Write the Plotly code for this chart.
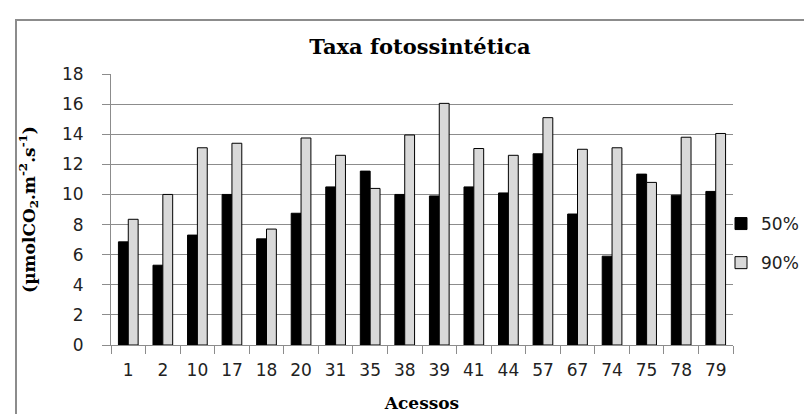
import plotly.graph_objects as go

categories = ["1", "2", "10", "17", "18", "20", "31", "35", "38", "39", "41", "44", "57", "67", "74", "75", "78", "79"]
series_50 = [6.85, 5.3, 7.3, 10.0, 7.05, 8.75, 10.5, 11.55, 10.0, 9.9, 10.5, 10.1, 12.7, 8.7, 5.9, 11.35, 9.95, 10.2]
series_90 = [8.35, 10.0, 13.1, 13.4, 7.7, 13.75, 12.6, 10.4, 13.95, 16.05, 13.05, 12.6, 15.1, 13.0, 13.1, 10.8, 13.8, 14.05]
y_ticks = [0, 2, 4, 6, 8, 10, 12, 14, 16, 18]

W, H = 812, 414
L, R, T, B = 103, 87, 66, 77
pw, ph = W - L - R, H - T - B

fig = go.Figure()
fig.add_trace(go.Bar(x=categories, y=series_50, name="50%", legendgroup="a",
                     marker=dict(color="#000000", line=dict(color="#000000", width=1))))
fig.add_trace(go.Bar(x=categories, y=series_90, name="90%", legendgroup="b",
                     marker=dict(color="#d9d9d9", line=dict(color="#000000", width=1))))

tickfont = dict(family="DejaVu Sans", size=17, color="#222222")
serif_bold = "DejaVu Serif"

fig.update_layout(
    width=W, height=H,
    margin=dict(l=L, r=R, t=T, b=B, autoexpand=False),
    paper_bgcolor="white", plot_bgcolor="white",
    barmode="group", bargap=0.43, bargroupgap=0.0,
    title=dict(text="<b>Taxa fotossintética</b>", font=dict(family=serif_bold, size=21, color="#000"),
               x=(412 - L) / pw, xref="paper", xanchor="center",
               y=1 - 39 / H, yref="container", yanchor="middle"),
    legend=dict(x=(713 - L) / pw, xanchor="left", y=(H - B - 235.5) / ph, yanchor="middle",
                font=dict(family="DejaVu Sans", size=17, color="#222222"),
                tracegroupgap=14, traceorder="grouped",
                bgcolor="rgba(0,0,0,0)"),
    showlegend=True,
)

fig.update_xaxes(
    type="category", tickson="boundaries", ticks="outside", ticklen=8, tickcolor="#8c8c8c",
    showline=True, linecolor="#8c8c8c", linewidth=1, showgrid=False,
    tickfont=tickfont, ticklabelstandoff=10,
    title=dict(text="<b>Acessos</b>", font=dict(family=serif_bold, size=17, color="#000"), standoff=17),
)
fig.update_yaxes(
    range=[0, 18], tickvals=y_ticks, ticks="outside", ticklen=8, tickcolor="#8c8c8c",
    showline=True, linecolor="#8c8c8c", linewidth=1,
    showgrid=True, gridcolor="#8c8c8c", gridwidth=1, zeroline=False,
    tickfont=tickfont, ticklabelstandoff=15,
    title=dict(text="<b>(µmolCO<sub>2</sub>.m<sup>-2</sup>.s<sup>-1</sup>)</b>",
               font=dict(family=serif_bold, size=17, color="#000"), standoff=22),
)

fig.add_shape(type="rect", xref="paper", yref="paper",
              x0=(8 - L) / pw, x1=1.3, y0=-0.5, y1=(H - B - 12) / ph,
              line=dict(color="#8c8c8c", width=2), fillcolor="rgba(0,0,0,0)", layer="below")

fig.write_html("out.html")
